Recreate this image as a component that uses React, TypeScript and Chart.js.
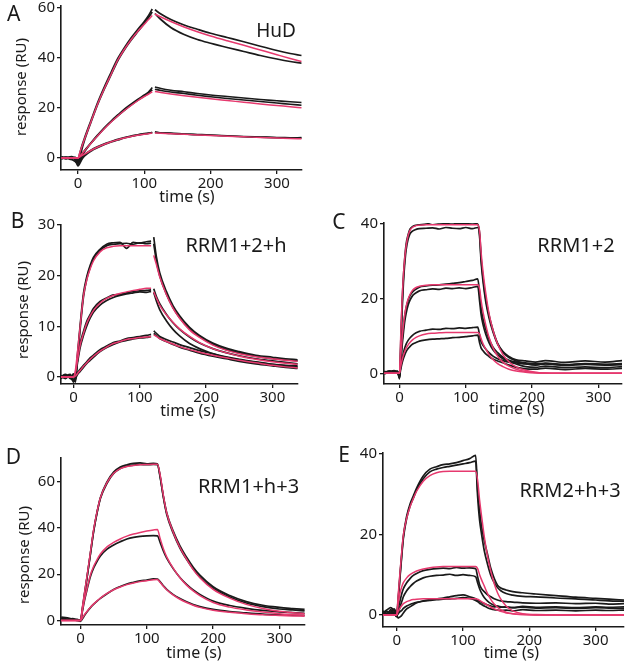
import React, { useEffect, useRef } from "react";
import { Chart, registerables } from "chart.js";

Chart.register(...registerables);

const FONT = '"Noto Sans", "DejaVu Sans", sans-serif';
const RED = "#e6396e";
const INK = "#1a1a1a";

const xTickValues = [0, 100, 200, 300];

// ---------- Panel A: HuD ----------
const tA = [-25, -18, -10, -4, 0, 3, 6, 10, 20, 30, 40, 50, 60, 70, 80, 90, 100, 106, 112, 114, 116, 125, 140, 160, 180, 200, 225, 250, 275, 300, 320, 337];
const aFitHigh = [0, 0, 0, 0, 0, 2.4, 4.7, 7.7, 14.8, 21.8, 27.9, 33.5, 39.2, 43.5, 47.3, 50.6, 53.5, 55.3, 57, null, 57.6, 56.4, 54.6, 52.4, 50.5, 48.8, 46.9, 45.1, 43.2, 41.3, 39.8, 38.6];
const aFitMid = [0, 0, 0, 0, 0, 0.8, 1.7, 2.9, 6, 9, 11.8, 14.4, 16.8, 19, 21, 22.9, 24.6, 25.5, 26.5, null, 26.6, 26.2, 25.6, 24.9, 24.3, 23.7, 23, 22.3, 21.6, 21, 20.5, 20.1];
const aFitLow = [0, 0, 0, 0, 0, 0.5, 1, 1.6, 3.1, 4.4, 5.5, 6.5, 7.3, 8, 8.6, 9.1, 9.5, 9.7, 10, null, 10, 9.9, 9.7, 9.5, 9.2, 9, 8.7, 8.5, 8.2, 8, 7.8, 7.7];
const aHigh1 = [0.5, 0.2, 0.6, 0, -0.6, 2.2, 5, 8.1, 15.3, 22.4, 28.6, 34.3, 39.8, 44.1, 48, 51.4, 54.6, 56.8, 59.6, null, 59.3, 57.6, 55.4, 53.2, 51.5, 49.9, 48.2, 46.5, 44.7, 43, 41.8, 41];
const aHigh2 = [-0.3, 0.4, -0.5, -1.4, -2.6, -0.4, 3.6, 7.2, 14.6, 21.6, 27.7, 33.3, 38.9, 43.3, 47.1, 50.5, 53.8, 56, 58.4, null, 57.8, 55.4, 52.2, 49.4, 47.4, 45.9, 44.2, 42.6, 41, 39.6, 38.6, 37.9];
const aMid1 = [0.3, -0.2, 0.4, -0.8, -2, -0.8, 1.2, 2.6, 6.2, 9.3, 12.2, 14.8, 17.2, 19.5, 21.5, 23.4, 25.2, 26.3, 28.2, null, 28.4, 27.8, 27.1, 26.5, 25.8, 25.2, 24.6, 24, 23.4, 22.9, 22.5, 22.2];
const aMid2 = [-0.2, 0.3, -0.3, 0.2, -1.2, 0.3, 1.5, 3, 6, 9, 11.9, 14.5, 16.9, 19.1, 21.2, 23.1, 24.8, 25.9, 27.3, null, 27.5, 27, 26.4, 25.8, 25.1, 24.5, 23.8, 23.2, 22.6, 22, 21.5, 21.1];
const aLow1 = [0.4, -0.4, 0.2, -0.6, -3.2, -2, -0.5, 0.8, 2.8, 4.2, 5.4, 6.4, 7.2, 8, 8.6, 9.2, 9.6, 9.8, 10.3, null, 10.5, 10, 10, 9.6, 9.4, 9.2, 8.9, 8.6, 8.4, 8.2, 8.1, 8];
const aLow2 = [-0.4, 0.1, -0.6, 0.3, -1.5, -1, 0.2, 1.3, 3.2, 4.6, 5.7, 6.6, 7.5, 8.2, 8.8, 9.3, 9.8, 10, 10.1, null, 10.2, 10.1, 9.8, 9.6, 9.3, 9.1, 8.8, 8.5, 8.3, 8.1, 7.9, 8.2];
const aYTicks = [0, 20, 40, 60];

// ---------- Panel B: RRM1+2+h ----------
const tB = [-19, -12, -5, 0, 3, 6, 10, 15, 20, 25, 30, 40, 50, 60, 70, 80, 90, 100, 110, 117, 119, 121, 125, 130, 140, 150, 160, 175, 190, 210, 230, 250, 275, 300, 320, 338];
const bFitHigh = [0, 0, 0, 0, 1.5, 5, 10, 16, 19.2, 21.3, 22.9, 24.7, 25.5, 25.8, 25.9, 25.9, 25.9, 25.9, 25.9, 25.9, null, 24, 22.2, 19.8, 16.3, 13.6, 11.6, 9.3, 7.8, 6.3, 5.3, 4.6, 4, 3.6, 3.3, 3.1];
const bFitMid = [0, 0, 0, 0, 1, 3.3, 6.3, 8.6, 10.6, 12, 13.1, 14.6, 15.5, 16.1, 16.5, 16.8, 17.1, 17.3, 17.5, 17.5, null, 16.8, 15.6, 14.2, 12.3, 10.8, 9.5, 8, 6.8, 5.6, 4.8, 4.1, 3.5, 3, 2.7, 2.5];
const bFitLow = [0, 0, 0, 0, 0.2, 0.7, 1.3, 2.1, 2.8, 3.5, 4.1, 5.1, 5.9, 6.6, 7, 7.4, 7.6, 7.8, 7.9, 8, null, 8.3, 8, 7.6, 7, 6.5, 6, 5.4, 4.9, 4.3, 3.8, 3.3, 2.8, 2.3, 2, 1.8];
const bHigh1 = [0.3, -0.2, 0.4, -0.8, -0.4, 4.5, 10.2, 16.5, 19.8, 22, 23.6, 25.2, 26.2, 26.5, 26.6, 25.4, 26.6, 26.4, 26.7, 26.8, null, 27.6, 23.7, 20.6, 16.9, 14.1, 12.1, 9.8, 8.2, 6.7, 5.7, 5, 4.3, 3.9, 3.6, 3.4];
const bHigh2 = [-0.2, 0.4, -0.1, 0.6, -1, 3.8, 9.5, 15.8, 19.4, 21.6, 23.2, 24.9, 25.9, 26.2, 26.3, 26.4, 26.2, 26.5, 26.3, 26.4, null, 26.3, 22.9, 20, 16.4, 13.7, 11.7, 9.5, 8, 6.5, 5.4, 4.8, 4.1, 3.6, 3.4, 3.2];
const bMid1 = [-0.3, 0.4, -0.2, 0.5, 0.6, 3.4, 6.6, 9, 11, 12.3, 13.5, 14.9, 15.6, 16.2, 16.3, 16.6, 16.9, 17, 17.1, 17.2, null, 17.4, 15.9, 14.5, 12.4, 10.7, 9.4, 7.9, 6.7, 5.6, 4.8, 4.2, 3.6, 3.2, 2.9, 2.6];
const bMid2 = [0.2, -0.3, 0.3, -0.5, 0.2, 2.8, 5.8, 8.2, 10.1, 11.6, 12.8, 14.2, 15.1, 15.7, 16.1, 16.4, 16.6, 16.8, 16.7, 16.9, null, 16.7, 15, 13.3, 11.1, 9.4, 8.1, 6.6, 5.6, 4.6, 3.9, 3.4, 2.9, 2.5, 2.3, 2.2];
const bLow1 = [0.1, 0.5, -0.3, -0.6, 0.4, 0.9, 1.5, 2.3, 3, 3.8, 4.3, 5.4, 6.1, 6.8, 7.1, 7.6, 7.8, 8, 8.2, 8.4, null, 9.1, 8.6, 8, 7.4, 6.9, 6.4, 5.8, 5.2, 4.6, 4, 3.5, 3, 2.5, 2.2, 2];
const bLow2 = [-0.2, 0.2, 0.5, -1, -0.3, 0.5, 1.1, 1.9, 2.7, 3.3, 3.9, 5, 5.8, 6.4, 6.9, 7.2, 7.5, 7.7, 7.8, 8, null, 8.6, 8.1, 7.6, 7, 6.4, 5.9, 5.3, 4.7, 4.1, 3.6, 3.1, 2.6, 2.2, 1.9, 1.7];
const bYTicks = [0, 10, 20, 30];

// ---------- Panel C: RRM1+2 ----------
const tC = [-23, -15, -8, -3, 0, 1, 2, 4, 6, 8, 10, 13, 16, 20, 25, 30, 40, 50, 60, 70, 80, 90, 100, 110, 118, 121, 123, 126, 130, 135, 141, 148, 156, 165, 176, 190, 205, 220, 250, 280, 310, 336];
const cFitHigh = [0, 0, 0, 0, 0, 5, 11, 20, 26.5, 31, 34, 36.8, 38.2, 39, 39.4, 39.5, 39.6, 39.6, 39.6, 39.6, 39.6, 39.6, 39.6, 39.6, 39.6, 37.5, 32.5, 27, 21.5, 16, 11.5, 7.8, 5, 3.1, 1.7, 0.8, 0.3, 0.1, 0, 0, 0, 0];
const cFitMid = [0, 0, 0, 0, 0, 2.5, 5, 9.5, 13, 15.8, 17.8, 19.8, 21.1, 22.2, 22.9, 23.2, 23.5, 23.6, 23.6, 23.6, 23.6, 23.6, 23.6, 23.6, 23.6, 22.4, 19.5, 16.3, 13, 9.6, 6.8, 4.6, 3, 1.9, 1.1, 0.5, 0.2, 0.1, 0, 0, 0, 0];
const cFitLow = [0, 0, 0, 0, 0, 1, 2, 3.6, 4.9, 5.9, 6.7, 7.6, 8.3, 9, 9.6, 10, 10.5, 10.7, 10.8, 10.9, 10.9, 10.9, 10.9, 10.9, 10.9, 10.4, 9.3, 7.9, 6.5, 5, 3.7, 2.6, 1.8, 1.1, 0.6, 0.3, 0.1, 0, 0, 0, 0, 0];
const cHigh1 = [0.3, 0.6, 0.2, 0.5, -1.5, 3, 9, 19, 26, 31, 34.5, 37, 38.5, 39.2, 39.5, 39.6, 39.8, 40.3, 40.1, 40, 40.2, 39.9, 40, 40.1, 39.8, 37, 31, 25.5, 20, 15.5, 11.5, 8, 5.8, 4.5, 3.6, 3.3, 3, 3.4, 2.9, 3.3, 3, 3.4];
const cHigh2 = [-0.2, 0.4, 0.7, 0.1, -0.5, 2, 7, 17, 24.5, 29.5, 33, 35.8, 37.3, 38, 38.4, 38.6, 38.7, 38.8, 38.5, 38.9, 38.7, 38.6, 38.9, 38.6, 38.9, 36, 30, 24.5, 19.2, 14.8, 11, 7.8, 5.6, 4.2, 3.3, 2.6, 2.2, 2.5, 2.1, 2.4, 2.2, 2.3];
const cMid1 = [0.5, 0.2, 0.6, 0.3, -1, 1.5, 4, 9, 12.5, 15.5, 17.5, 19.5, 20.8, 21.8, 22.5, 23, 23.3, 23.5, 23.6, 23.8, 24, 24.2, 24.5, 24.8, 25.2, 21, 17.5, 14.5, 11.8, 9.2, 7, 5.5, 4.3, 3.5, 3, 2.8, 2.5, 2.7, 2.3, 2.6, 2.4, 2.6];
const cMid2 = [0.1, 0.5, 0.2, 0.6, -0.8, 1, 3, 7.5, 11, 14, 16, 18.2, 19.6, 20.8, 21.5, 22, 22.3, 22.5, 22.4, 22.7, 22.6, 22.8, 22.6, 22.9, 23.2, 19, 15.8, 13, 10.5, 8.2, 6.3, 4.9, 3.9, 3.2, 2.5, 1.8, 1.6, 1.9, 1.5, 1.7, 1.5, 1.8];
const cLow1 = [0.4, 0.2, 0.5, 0.2, -0.5, 0.8, 2, 3.8, 5.5, 6.8, 7.8, 8.8, 9.5, 10.2, 10.8, 11.2, 11.5, 11.8, 11.7, 12, 11.9, 12.1, 12, 12.2, 12.3, 10, 8.5, 7.5, 6.5, 5.5, 4.6, 3.9, 3.4, 3, 2.8, 2.5, 2.3, 2.6, 2.2, 2.5, 2.3, 2.5];
const cLow2 = [0.2, 0.6, 0.3, 0.4, -1.2, 0.2, 1.2, 2.8, 4, 5, 5.8, 6.6, 7.2, 7.8, 8.2, 8.6, 8.9, 9.1, 9.2, 9.3, 9.5, 9.6, 9.8, 10, 10.2, 8, 6.8, 6, 5.2, 4.5, 3.8, 3.3, 2.8, 2.2, 1.6, 1.2, 1.1, 1.4, 1, 1.3, 1.1, 1.3];
const cYTicks = [0, 20, 40];

// ---------- Panel D: RRM1+h+3 ----------
const tD = [-29, -20, -12, -5, 0, 3, 6, 10, 15, 20, 25, 30, 40, 50, 60, 70, 80, 90, 100, 110, 116, 120, 125, 130, 140, 150, 160, 170, 180, 200, 225, 250, 275, 300, 320, 338];
const dFitHigh = [0, 0, 0, 0, 0, 6, 12, 19.5, 29.5, 39.5, 47, 53, 59.5, 63.5, 65.5, 66.4, 66.9, 67.2, 67.3, 67.4, 67.4, 63, 54, 46.5, 38, 31.5, 26.5, 22, 18.5, 13.5, 9.7, 7, 5.2, 4, 3.4, 3];
const dFitMid = [0, 0, 0, 0, 0, 4.5, 9, 14, 19.8, 23.5, 26.3, 28.7, 31.8, 33.7, 35.2, 36.4, 37.3, 38, 38.6, 39.1, 39.3, 35.5, 31, 27.5, 22.5, 18.5, 15.3, 12.8, 10.8, 7.8, 5.8, 4.6, 3.7, 3, 2.6, 2.3];
const dFitLow = [0, 0, 0, 0, 0, 1.2, 2.5, 4, 5.8, 7.2, 8.5, 9.7, 11.7, 13.3, 14.5, 15.5, 16.2, 16.8, 17.2, 17.6, 17.7, 16.5, 14.8, 13.3, 11, 9.2, 7.8, 6.6, 5.7, 4.5, 3.6, 3, 2.5, 2.2, 2, 1.9];
const dHigh1 = [1.5, 1.2, 0.6, 0.2, 0.3, 5.5, 11.5, 19, 29, 39, 46.8, 53, 59.8, 64, 66.2, 67.2, 67.8, 68, 67.6, 67.8, 67.6, 62, 53.5, 46.5, 38.5, 32.2, 27.3, 23, 19.6, 14.6, 10.8, 8.2, 6.6, 5.7, 5.2, 4.8];
const dHigh2 = [0.8, 0.4, 0.9, 0.3, -0.3, 5, 11, 18.8, 28.8, 38.8, 46.5, 52.6, 59.2, 63.4, 65.6, 66.6, 67, 67.3, 67.2, 67.3, 67.2, 62.5, 53.2, 45.8, 37.6, 31.3, 26.4, 22.2, 18.8, 13.9, 10.2, 7.6, 6, 5, 4.6, 4.2];
const dMid1 = [0.8, 0.3, 0.5, 0, 0.2, 4.2, 8.6, 13.5, 19, 22.8, 25.6, 27.9, 30.8, 32.6, 34, 35.2, 35.9, 36.3, 36.5, 36.6, 36.5, 33.8, 30, 26.9, 22.3, 18.6, 15.6, 13.2, 11.3, 8.4, 6.5, 5.3, 4.4, 3.8, 3.4, 3.1];
const dLow1 = [1.2, 0.6, 0.3, 0.5, -0.2, 0.8, 2.2, 3.8, 5.6, 7.1, 8.4, 9.6, 11.6, 13.4, 14.7, 15.8, 16.5, 17.1, 17.5, 18, 17.9, 16.8, 15, 13.5, 11.2, 9.5, 8.1, 6.9, 6, 4.8, 3.9, 3.3, 2.8, 2.5, 2.3, 2.2];
const dYTicks = [0, 20, 40, 60];

// ---------- Panel E: RRM2+h+3 ----------
const tE = [-21, -15, -9, -4, 0, 2, 5, 8, 10, 15, 20, 25, 30, 40, 50, 60, 70, 80, 90, 100, 110, 119, 122, 125, 128, 132, 137, 142, 147, 152, 157, 165, 175, 190, 210, 240, 270, 300, 320, 343];
const eFitHigh = [0, 0, 0, 0, 0, 4.5, 10.7, 16.5, 19.8, 24, 26.8, 28.9, 30.7, 33.2, 34.6, 35.3, 35.6, 35.7, 35.7, 35.7, 35.7, 35.7, 33.5, 28.5, 24.5, 19.5, 14.5, 10.8, 7.8, 5.5, 3.9, 2.2, 1, 0.3, 0.1, 0, 0, 0, 0, 0];
const eFitMid = [0, 0, 0, 0, 0, 2.5, 5.5, 7.2, 8, 9.2, 10, 10.5, 10.9, 11.4, 11.7, 11.9, 12, 12, 12, 12, 12, 12, 11.5, 10, 8.7, 7.2, 5.3, 3.8, 2.7, 1.9, 1.3, 0.7, 0.3, 0.1, 0, 0, 0, 0, 0, 0];
const eFitLow = [0, 0, 0, 0, 0, 0.8, 1.7, 2.4, 2.8, 3.3, 3.6, 3.8, 3.9, 4, 4, 4, 4, 4, 4, 4, 4, 4, 3.9, 3.6, 3.3, 2.9, 2.4, 1.9, 1.5, 1.2, 0.9, 0.5, 0.3, 0.1, 0, 0, 0, 0, 0, 0];
const eHigh1 = [0.5, 1.2, 1.8, 1, 0.3, 3.5, 10, 16, 19.5, 24.5, 27.5, 29.5, 31.5, 34.5, 36.2, 36.8, 37.3, 37.5, 37.8, 38.3, 38.8, 39.6, 31, 26, 22, 18.5, 15, 11.5, 9.1, 7.4, 6.7, 6.2, 5.8, 5.5, 5.2, 4.8, 4.4, 4.1, 3.9, 3.7];
const eHigh2 = [0.8, 0.2, 1.3, 0.4, -0.5, 3, 9.5, 15.5, 19, 24, 27, 29, 31, 33.8, 35.5, 36.2, 36.6, 36.9, 37.2, 37.5, 37.8, 38.2, 29.5, 23.5, 20, 16, 12.6, 9.8, 8, 6.8, 6, 5.3, 4.9, 4.6, 4.5, 4.2, 4, 3.7, 3.5, 3.4];
const eMid1 = [0.2, 0.8, 0.5, 1.2, 0.4, 1.5, 3.5, 5.5, 6.5, 8, 9, 9.8, 10.3, 11, 11.3, 11.5, 11.6, 11.5, 11.8, 11.6, 11.7, 11.5, 9.5, 7.5, 6.5, 5.8, 5, 4.5, 4, 3.7, 3.5, 3.3, 3.2, 3, 2.9, 3, 2.8, 2.9, 2.7, 2.8];
const eMid2 = [0.6, 0.3, 1, 0.2, -0.3, 0.5, 2, 3.5, 4.5, 6, 7, 7.8, 8.4, 9.2, 9.6, 9.8, 9.9, 10.1, 9.8, 10, 9.8, 9.5, 8, 6.5, 5.4, 4.3, 3.4, 2.8, 2.4, 2.2, 2, 1.9, 1.8, 1.9, 1.7, 1.8, 1.6, 1.8, 1.7, 1.6];
const eLow1 = [1, 0.4, 0.7, 1.5, 0.2, -0.8, -0.5, 0, 0.5, 1.5, 2, 2.5, 3, 3.5, 3.8, 4, 4.2, 4.5, 4.8, 5, 4.5, 4, 3.6, 3.4, 3.1, 2.8, 2.5, 2.2, 2, 2.1, 1.9, 2, 1.8, 2.1, 1.9, 2, 1.8, 2, 1.9, 2];
const eLow2 = [0.3, 0.9, 0.2, 0.6, -0.2, 0.3, 0.8, 1.2, 1.6, 2.2, 2.6, 2.9, 3.1, 3.4, 3.6, 3.8, 3.9, 4, 4.1, 4.3, 4.1, 3.6, 3.3, 2.9, 2.6, 2.2, 1.8, 1.5, 1.3, 1.2, 1.1, 1.2, 1, 1.3, 1.1, 1.2, 1, 1.2, 1.1, 1.2];
const eYTicks = [0, 20, 40];

// ---------- layout (page pixels) ----------
const PAD_L = 50;
const PAD_T = 14;
const PAD_R = 10;
const PAD_B = 30;

type PanelSpec = {
  times: number[];
  fits: (number | null)[][];
  traces: (number | null)[][];
  yTicks: number[];
  xMin: number;
  xMax: number;
  yMin: number;
  yMax: number;
  plot: { left: number; top: number; right: number; bottom: number };
};

const panels: PanelSpec[] = [
  {
    times: tA, fits: [aFitHigh, aFitMid, aFitLow], traces: [aHigh1, aHigh2, aMid1, aMid2, aLow1, aLow2],
    yTicks: aYTicks, xMin: -25.6, xMax: 337.8, yMin: -4.8, yMax: 60.8,
    plot: { left: 61, top: 6, right: 302, bottom: 170 },
  },
  {
    times: tB, fits: [bFitHigh, bFitMid, bFitLow], traces: [bHigh1, bHigh2, bMid1, bMid2, bLow1, bLow2],
    yTicks: bYTicks, xMin: -18.9, xMax: 338.6, yMin: -1.38, yMax: 30,
    plot: { left: 61, top: 225, right: 298, bottom: 384 },
  },
  {
    times: tC, fits: [cFitHigh, cFitMid, cFitLow], traces: [cHigh1, cHigh2, cMid1, cMid2, cLow1, cLow2],
    yTicks: cYTicks, xMin: -23.4, xMax: 335.6, yMin: -2.85, yMax: 40.1,
    plot: { left: 384, top: 223, right: 622, bottom: 384 },
  },
  {
    times: tD, fits: [dFitHigh, dFitMid, dFitLow], traces: [dHigh1, dHigh2, dMid1, dLow1],
    yTicks: dYTicks, xMin: -29.4, xMax: 338.6, yMin: -1.9, yMax: 70.1,
    plot: { left: 61, top: 458, right: 305, bottom: 625 },
  },
  {
    times: tE, fits: [eFitHigh, eFitMid, eFitLow], traces: [eHigh1, eHigh2, eMid1, eMid2, eLow1, eLow2],
    yTicks: eYTicks, xMin: -20.7, xMax: 342.8, yMin: -3, yMax: 40.2,
    plot: { left: 383, top: 453, right: 624, bottom: 627 },
  },
];

type Label = { text: string; x: number; y: number; size: number; rotate?: boolean };

const labels: Label[] = [
  { text: "A", x: 13.7, y: 12.5, size: 21 },
  { text: "B", x: 17.5, y: 220, size: 21 },
  { text: "C", x: 339, y: 220.5, size: 21 },
  { text: "D", x: 13.3, y: 455.5, size: 21 },
  { text: "E", x: 344, y: 454, size: 21 },
  { text: "HuD", x: 276, y: 30, size: 19 },
  { text: "RRM1+2+h", x: 236, y: 245, size: 20 },
  { text: "RRM1+2", x: 576, y: 244.5, size: 20 },
  { text: "RRM1+h+3", x: 248.5, y: 485.5, size: 20 },
  { text: "RRM2+h+3", x: 570, y: 489.5, size: 20 },
  { text: "time (s)", x: 187, y: 195.5, size: 16 },
  { text: "time (s)", x: 188, y: 409.5, size: 16 },
  { text: "time (s)", x: 516.7, y: 407.5, size: 16 },
  { text: "time (s)", x: 194, y: 651.5, size: 16 },
  { text: "time (s)", x: 511.5, y: 651.5, size: 16 },
  { text: "response (RU)", x: 20, y: 87, size: 15, rotate: true },
  { text: "response (RU)", x: 21.5, y: 310, size: 15, rotate: true },
  { text: "response (RU)", x: 22.5, y: 555, size: 15, rotate: true },
];

function toPoints(times: number[], values: (number | null)[]) {
  return times.map((x, i) => ({ x, y: values[i] }));
}

function Panel({ spec }: { spec: PanelSpec }) {
  const ref = useRef<HTMLCanvasElement | null>(null);
  const { plot } = spec;
  const width = plot.right - plot.left + PAD_L + PAD_R;
  const height = plot.bottom - plot.top + PAD_T + PAD_B;

  useEffect(() => {
    if (!ref.current) return;
    const fitSets = spec.fits.map((f) => ({
      data: toPoints(spec.times, f),
      borderColor: RED,
      borderWidth: 1.5,
      order: 0,
      pointRadius: 0,
      cubicInterpolationMode: "monotone",
      fill: false,
    }));
    const traceSets = spec.traces.map((t) => ({
      data: toPoints(spec.times, t),
      borderColor: INK,
      borderWidth: 1.7,
      order: 1,
      pointRadius: 0,
      cubicInterpolationMode: "monotone",
      fill: false,
    }));
    const tickFont = { family: FONT, size: 15 };
    const chart = new Chart(ref.current, {
      type: "line",
      data: { datasets: [...fitSets, ...traceSets] as any },
      options: {
        responsive: false,
        animation: false,
        devicePixelRatio: 1,
        spanGaps: false,
        layout: { padding: { left: 0, top: PAD_T, right: PAD_R, bottom: 0 } },
        plugins: { legend: { display: false }, tooltip: { enabled: false } },
        elements: { point: { radius: 0 } },
        scales: {
          x: {
            type: "linear",
            min: spec.xMin,
            max: spec.xMax,
            afterFit: (s: any) => { s.height = PAD_B; },
            afterBuildTicks: (s: any) => { s.ticks = xTickValues.map((v) => ({ value: v })); },
            grid: { display: true, drawOnChartArea: false, drawTicks: true, tickLength: 4, color: INK, lineWidth: 1.3 },
            border: { display: true, color: INK, width: 1.6 },
            ticks: { font: tickFont, color: INK, padding: 1, maxRotation: 0, autoSkip: false },
          },
          y: {
            type: "linear",
            min: spec.yMin,
            max: spec.yMax,
            afterFit: (s: any) => { s.width = PAD_L; },
            afterBuildTicks: (s: any) => { s.ticks = spec.yTicks.map((v) => ({ value: v })); },
            grid: { display: true, drawOnChartArea: false, drawTicks: true, tickLength: 4, color: INK, lineWidth: 1.3 },
            border: { display: true, color: INK, width: 1.6 },
            ticks: { font: tickFont, color: INK, padding: 2, autoSkip: false },
          },
        },
      } as any,
    });
    return () => chart.destroy();
  }, []);

  return (
    <canvas
      ref={ref}
      width={width}
      height={height}
      style={{
        position: "absolute",
        left: plot.left - PAD_L,
        top: plot.top - PAD_T,
        width,
        height,
      }}
    />
  );
}

export default function App() {
  return (
    <div
      style={{
        position: "fixed",
        left: 0,
        top: 0,
        width: 628,
        height: 665,
        background: "#ffffff",
        overflow: "hidden",
      }}
    >
      {panels.map((p, i) => (
        <Panel key={i} spec={p} />
      ))}
      {labels.map((l, i) => (
        <div
          key={"l" + i}
          style={{
            position: "absolute",
            left: l.x,
            top: l.y,
            transform: l.rotate ? "translate(-50%, -50%) rotate(-90deg)" : "translate(-50%, -50%)",
            fontFamily: FONT,
            fontSize: l.size,
            lineHeight: 1,
            color: INK,
            whiteSpace: "nowrap",
          }}
        >
          {l.text}
        </div>
      ))}
    </div>
  );
}
